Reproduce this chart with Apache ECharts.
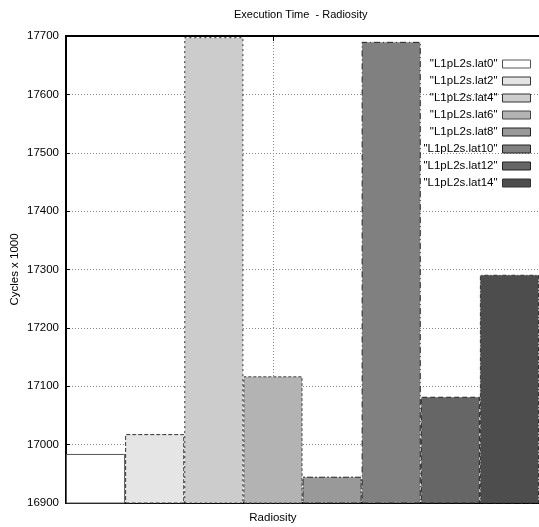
<!DOCTYPE html>
<html>
<head>
<meta charset="utf-8">
<script src="https://cdn.jsdelivr.net/npm/echarts@6/dist/echarts.min.js"></script>
<style>html,body{margin:0;padding:0;background:#fff}#c{width:539px;height:527px}</style>
</head>
<body>
<div id="c"></div>
<script>
const categories = ['Radiosity'];
const seriesNames = ['"L1pL2s.lat0"', '"L1pL2s.lat2"', '"L1pL2s.lat4"', '"L1pL2s.lat6"', '"L1pL2s.lat8"', '"L1pL2s.lat10"', '"L1pL2s.lat12"', '"L1pL2s.lat14"'];
const values = [16984, 17018, 17698, 17117, 16945, 17690, 17082, 17291];
const yTicks = [16900, 17000, 17100, 17200, 17300, 17400, 17500, 17600, 17700];
const fills = ['#ffffff', '#e5e5e5', '#cccccc', '#b3b3b3', '#999999', '#808080', '#666666', '#4d4d4d'];
const borders = ['solid', [4, 2], [2, 3], [3, 2], [6, 2, 2, 2], [6, 3, 1, 3], [5, 3], [1, 2, 4, 2]];
const borderColors = ['#555555', '#333333', '#333333', '#444444', '#222222', '#222222', '#222222', '#333333'];

const FONT = '"Liberation Sans", Arial, sans-serif';
const labelIdx = 3;
const slotNames = seriesNames.map((n, i) => 'slot' + i);

const series = seriesNames.map((name, i) => ({
  name: name,
  type: 'bar',
  xAxisIndex: 0,
  barGap: '-100%',
  barCategoryGap: 0,
  barWidth: '100%',
  data: values.map((v, j) => (j === i ? values[i] : '-')),
  itemStyle: {
    color: fills[i],
    borderColor: borderColors[i],
    borderWidth: 1,
    borderType: borders[i]
  },
  emphasis: { disabled: true },
  animation: false
}));

const chart = echarts.init(document.getElementById('c'), null, { renderer: 'canvas' });
chart.setOption({
  animation: false,
  backgroundColor: '#fff',
  title: {
    text: 'Execution Time  - Radiosity',
    left: 229,
    top: 4,
    textStyle: { fontFamily: FONT, fontSize: 11, fontWeight: 'normal', color: '#000' }
  },
  grid: { left: 66, right: 0, top: 36, bottom: 24, containLabel: false, outerBoundsMode: 'none' },
  legend: {
    data: seriesNames,
    orient: 'vertical',
    right: 3,
    top: 53,
    align: 'right',
    icon: 'rect',
    itemWidth: 28,
    itemHeight: 8,
    itemGap: 5,
    itemStyle: { borderWidth: 1 },
    textStyle: { fontFamily: FONT, fontSize: 11.5, color: '#000' },
    selectedMode: false
  },
  xAxis: [
    {
      type: 'category',
      data: slotNames,
      position: 'bottom',
      axisLine: { show: true, lineStyle: { color: '#000', width: 2 } },
      axisTick: { show: true, inside: true, length: 5, alignWithLabel: true, interval: (i) => i === labelIdx, lineStyle: { color: '#000' } },
      axisLabel: {
        show: true,
        interval: (i) => i === labelIdx,
        formatter: (v, i) => (i === labelIdx ? categories[0] : ''),
        margin: 9,
        fontFamily: FONT,
        fontSize: 11.5,
        color: '#000'
      },
      splitLine: {
        show: true,
        alignWithLabel: true,
        interval: (i) => i === labelIdx,
        lineStyle: { color: '#888', type: [1, 2], width: 1 }
      }
    },
    {
      type: 'category',
      data: slotNames,
      position: 'top',
      axisLine: { show: true, lineStyle: { color: '#000', width: 2 } },
      axisTick: { show: true, inside: true, length: 5, alignWithLabel: true, interval: (i) => i === labelIdx, lineStyle: { color: '#000' } },
      axisLabel: { show: false },
      splitLine: { show: false }
    }
  ],
  yAxis: {
    type: 'value',
    min: yTicks[0],
    max: yTicks[yTicks.length - 1],
    interval: 100,
    name: 'Cycles x 1000',
    nameLocation: 'middle',
    nameGap: 45,
    nameMoveOverlap: false,
    nameTextStyle: { fontFamily: FONT, fontSize: 11.5, color: '#000' },
    axisLine: { show: true, lineStyle: { color: '#000', width: 2 } },
    axisTick: { show: true, inside: true, length: 4, lineStyle: { color: '#000' } },
    axisLabel: { margin: 7, fontFamily: FONT, fontSize: 11.5, color: '#000', formatter: (v) => String(v) },
    splitLine: { show: true, lineStyle: { color: '#888', type: [1, 2], width: 1 } }
  },
  series: series
});
</script>
</body>
</html>
